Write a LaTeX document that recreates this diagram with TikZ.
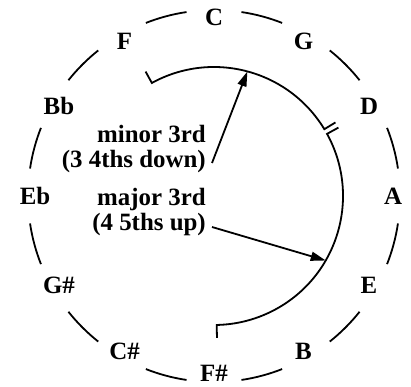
\documentclass[tikz,border=0pt]{standalone}
\usepackage{fontspec}
\setmainfont{Liberation Serif}
\usetikzlibrary{arrows.meta,calc}
\begin{document}
\begin{tikzpicture}[x=1bp,y=1bp,
  lab/.style={font=\fontsize{25}{26}\selectfont\bfseries, inner sep=0pt, text height=16.5bp, text depth=0pt, anchor=center},
  note/.style={font=\fontsize{25}{25}\selectfont\bfseries, inner sep=0pt, align=right, anchor=base east},
  ring/.style={line width=1.8bp},
  span/.style={line width=1.8bp},
  pointer/.style={line width=1.8bp, -{Triangle[length=15bp,width=9bp]}}]
\useasboundingbox (0,0) rectangle (411,387);
\coordinate (O) at (214,191);
% note labels
\foreach \name/\txt/\k in {C/C/0, G/G/1, D/D/2, A/A/3, E/E/4, B/B/5, Cs/C\#/7, Gs/G\#/8, Eb/Eb/9, Bb/Bb/10, F/F/11}
  \node[lab] (\name) at ($(O)+({90-30*\k}:179)$) {\txt};
\node[lab] (Fs) at ($(O)+(-90:177)$) {F\#};
% outer dashed ring
\foreach \k in {0,...,11}
  \draw[ring] ($(O)+({90-30*\k-8.5}:186)$) arc[start angle={90-30*\k-8.5}, end angle={90-30*\k-21.5}, radius=186];
% inner spans
\draw[span] ($(O)+(118.8:142)$) -- ($(O)+(118.8:129)$) arc[start angle=118.8, end angle=31.2, radius=129] -- ($(O)+(31.2:142)$);
\draw[span] ($(O)+(28.8:142)$) -- ($(O)+(28.8:129)$) arc[start angle=28.8, end angle=-88.8, radius=129] -- ($(O)+(-88.8:142)$);
% texts
\node[note] (minortext) at (206,220) {minor 3rd\\(3 4ths down)};
\node[note] (majortext) at (206,156.5) {major 3rd\\(4 5ths up)};
\coordinate (minortail) at (212,224);
\coordinate (majortail) at (212,160);
\coordinate (minorhit) at ($(O)+(75:129)$);
\coordinate (majorhit) at ($(O)+(-30:129)$);
\draw[pointer] (minortail) -- (minorhit);
\draw[pointer] (majortail) -- (majorhit);
\end{tikzpicture}
\end{document}
